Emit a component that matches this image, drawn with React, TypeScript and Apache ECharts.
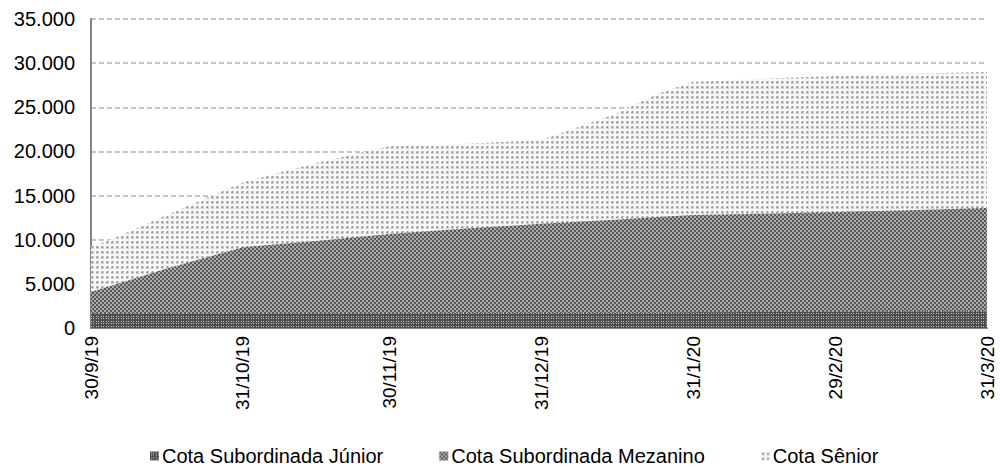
import React, { useEffect, useRef } from "react";
import * as echarts from "echarts";

const dates = [
  "2019-09-30", "2019-10-04", "2019-10-15", "2019-10-31", "2019-11-15",
  "2019-11-30", "2019-12-15", "2019-12-31", "2020-01-15", "2020-01-24",
  "2020-01-31", "2020-02-15", "2020-02-29", "2020-03-15", "2020-03-31",
];
const junior = [1650, 1650, 1650, 1650, 1650, 1650, 1700, 1700, 1700, 1700, 1750, 1800, 1850, 1900, 1900];
const mezanino = [2450, 3100, 5000, 7500, 8200, 9000, 9550, 10100, 10550, 10870, 11050, 11150, 11300, 11450, 11700];
const senior = [5100, 5250, 6050, 7350, 8850, 9950, 9600, 9500, 11950, 14030, 15100, 15300, 15400, 15450, 15400];
const tickDates = ["2019-09-30", "2019-10-31", "2019-11-30", "2019-12-31", "2020-01-31", "2020-02-29", "2020-03-31"];
const seriesNames = ["Cota Subordinada Júnior", "Cota Subordinada Mezanino", "Cota Sênior"];

function ts(s: string): number {
  const [y, m, d] = s.split("-").map(Number);
  return new Date(y, m - 1, d).getTime();
}

function makePattern(kind: string) {
  const size = kind === "mez" ? 4 : 5;
  const c = document.createElement("canvas");
  c.width = size;
  c.height = size;
  const g = c.getContext("2d")!;
  if (kind === "jun") {
    g.fillStyle = "#505050";
    g.fillRect(0, 0, size, size);
    g.fillStyle = "#bcbcbc";
    [[1, 1], [3, 1], [1, 3], [3, 3]].forEach(([x, y]) => g.fillRect(x, y, 1, 1));
  } else if (kind === "mez") {
    g.fillStyle = "#ababab";
    g.fillRect(0, 0, size, size);
    g.fillStyle = "#585858";
    g.fillRect(0, 0, 2, 2);
    g.fillRect(2, 2, 2, 2);
  } else {
    g.fillStyle = "#f7f7f7";
    g.fillRect(0, 0, size, size);
    g.fillStyle = "#d0d0d0";
    g.fillRect(1, 1, 3, 3);
    g.fillStyle = "#9c9c9c";
    g.fillRect(2, 2, 1, 1);
    g.fillRect(1, 2, 1, 1);
    g.fillRect(2, 1, 1, 1);
  }
  return { image: c, repeat: "repeat", imageWidth: size, imageHeight: size } as any;
}

function fmtThousands(v: number): string {
  return String(v).replace(/\B(?=(\d{3})+(?!\d))/g, ".");
}

export default function App() {
  const ref = useRef<HTMLDivElement>(null);
  useEffect(() => {
    const chart = echarts.init(ref.current!, null, { renderer: "svg" });
    const pats = [makePattern("jun"), makePattern("mez"), makePattern("sen")];
    const vals = [junior, mezanino, senior];
    // cumulative tops (stacking done here since the x axis is a value axis)
    const cum = vals.map((_, i) => dates.map((_, k) => vals.slice(0, i + 1).reduce((s, a) => s + a[k], 0)));
    const font = "'Liberation Sans', Arial, sans-serif";
    chart.setOption({
      animation: false,
      grid: { left: 91, right: 13, top: 19, bottom: 141, containLabel: false },
      xAxis: {
        type: "value",
        min: ts(dates[0]),
        max: ts(dates[dates.length - 1]),
        axisLine: { show: true, onZero: false, lineStyle: { color: "#868686", width: 2 } },
        axisTick: { show: false },
        splitLine: { show: false },
        axisLabel: {
          customValues: tickDates.map(ts),
          rotate: 90,
          margin: 8,
          color: "#000",
          fontSize: 19,
          fontFamily: font,
          hideOverlap: false,
          showMinLabel: true,
          showMaxLabel: true,
          formatter: (v: number) => {
            const d = new Date(v);
            return `${d.getDate()}/${d.getMonth() + 1}/${String(d.getFullYear()).slice(2)}`;
          },
        },
      },
      yAxis: {
        type: "value",
        min: 0,
        max: 35000,
        interval: 5000,
        axisLine: { show: true, lineStyle: { color: "#868686", width: 2 } },
        axisTick: { show: false },
        splitLine: { show: true, lineStyle: { color: "#b4b4b4", type: [5, 3], width: 1.5 } },
        axisLabel: { color: "#000", fontSize: 20, fontFamily: font, margin: 16, formatter: (v: number) => fmtThousands(v) },
      },
      legend: {
        left: 145,
        top: 441,
        icon: "rect",
        itemWidth: 9,
        itemHeight: 9,
        itemGap: 56,
        textStyle: { color: "#000", fontSize: 20, fontFamily: font, padding: [0, 0, 0, -2] },
        data: seriesNames.map((n, i) => ({ name: n, itemStyle: { color: pats[i] } })),
      },
      series: seriesNames.map((n, i) => ({
        name: n,
        type: "line",
        z: 10 - i,
        showSymbol: false,
        symbol: "none",
        lineStyle: { width: 0 },
        itemStyle: { color: pats[i] },
        areaStyle: { color: pats[i], opacity: 1 },
        data: dates.map((d, k) => [ts(d), cum[i][k]]),
      })),
    });
    return () => chart.dispose();
  }, []);
  return <div ref={ref} style={{ position: "absolute", left: 0, top: 0, width: 1000, height: 469 }} />;
}
